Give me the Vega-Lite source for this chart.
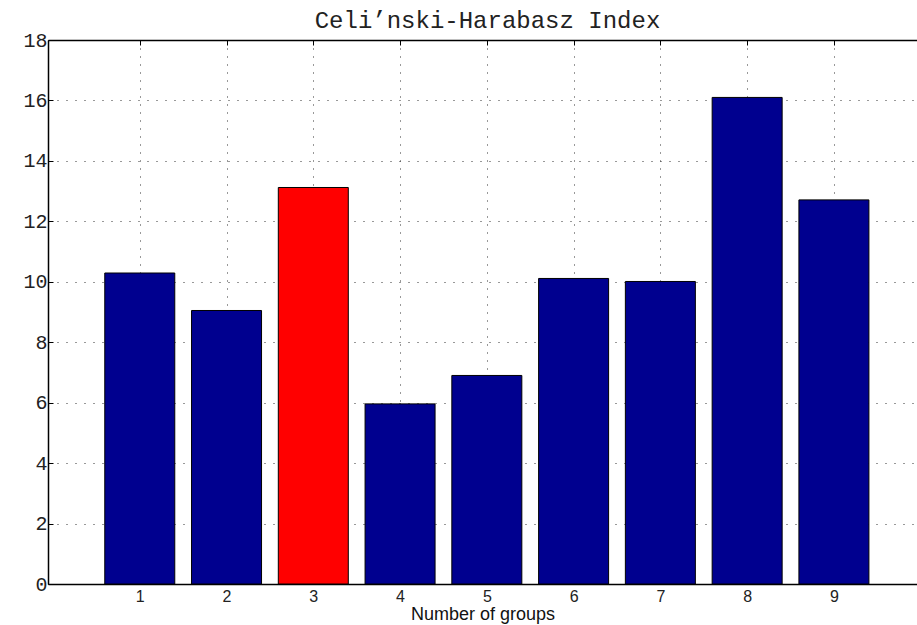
{
  "$schema": "https://vega.github.io/schema/vega-lite/v6.json",
  "width": 869,
  "height": 544,
  "autosize": "none",
  "padding": {"left": 48, "top": 40, "right": 0, "bottom": 41},
  "background": "white",
  "title": {
    "text": "Celi’nski-Harabasz Index",
    "font": "Liberation Mono",
    "fontSize": 24,
    "fontWeight": "normal",
    "color": "#222222",
    "anchor": "middle",
    "offset": -3,
    "dx": 5
  },
  "data": {
    "values": [
      {"n": 1, "index": 10.29},
      {"n": 2, "index": 9.05},
      {"n": 3, "index": 13.12},
      {"n": 4, "index": 5.96},
      {"n": 5, "index": 6.9},
      {"n": 6, "index": 10.11},
      {"n": 7, "index": 10.01},
      {"n": 8, "index": 16.1},
      {"n": 9, "index": 12.71}
    ]
  },
  "layer": [
    {
      "mark": {"type": "bar", "width": 70, "stroke": "#000000", "strokeWidth": 1},
      "encoding": {
        "x": {
          "field": "n",
          "type": "quantitative",
          "scale": {"domain": [0, 9.9], "nice": false, "zero": false},
          "axis": {
            "orient": "bottom",
            "values": [1, 2, 3, 4, 5, 6, 7, 8, 9],
            "title": "Number of groups",
            "titleFont": "Liberation Sans",
            "titleFontSize": 18,
            "titleFontWeight": "normal",
            "titleColor": "#111111",
            "titlePadding": 1,
            "labelFont": "Liberation Sans",
            "labelFontSize": 16,
            "labelColor": "#222222",
            "labelPadding": 9,
            "tickSize": -5,
            "tickColor": "#000000",
            "domainColor": "#000000",
            "domainWidth": 1.5,
            "grid": true,
            "gridColor": "#333333",
            "gridDash": [1, 7],
            "gridWidth": 1
          }
        },
        "y": {
          "field": "index",
          "type": "quantitative",
          "scale": {"domain": [0, 18], "nice": false},
          "axis": {
            "values": [0, 2, 4, 6, 8, 10, 12, 14, 16, 18],
            "title": null,
            "labelFont": "Liberation Mono",
            "labelFontSize": 20,
            "labelColor": "#222222",
            "labelPadding": 6,
            "tickSize": -5,
            "tickColor": "#000000",
            "domainColor": "#000000",
            "domainWidth": 1.5,
            "grid": true,
            "gridColor": "#333333",
            "gridDash": [1, 8],
            "gridWidth": 1
          }
        },
        "color": {
          "condition": {"test": "datum.n === 3", "value": "#FF0000"},
          "value": "#00008F"
        }
      }
    },
    {
      "mark": {"type": "point", "opacity": 0},
      "encoding": {
        "x": {
          "field": "n",
          "type": "quantitative",
          "axis": {
            "orient": "top",
            "values": [1, 2, 3, 4, 5, 6, 7, 8, 9],
            "title": null,
            "labels": false,
            "grid": false,
            "tickSize": -5,
            "tickColor": "#000000",
            "domainColor": "#000000",
            "domainWidth": 1.5
          }
        }
      }
    }
  ],
  "resolve": {"axis": {"x": "independent"}},
  "config": {
    "view": {"stroke": null}
  }
}
